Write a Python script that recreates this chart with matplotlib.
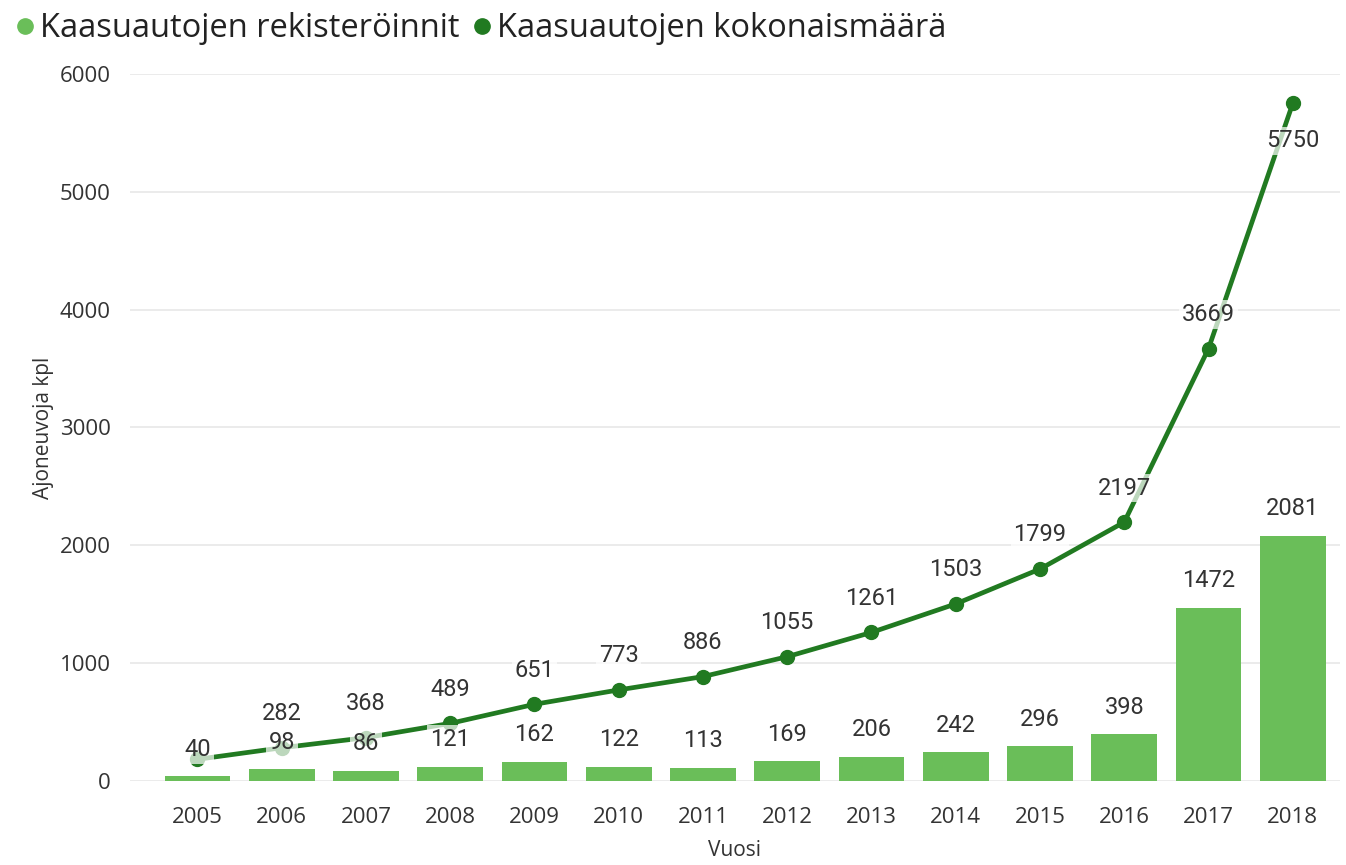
import matplotlib
matplotlib.use("Agg")
import matplotlib.pyplot as plt
from matplotlib.lines import Line2D

years = ["2005", "2006", "2007", "2008", "2009", "2010", "2011", "2012", "2013", "2014", "2015", "2016", "2017", "2018"]
registrations = [40, 98, 86, 121, 162, 122, 113, 169, 206, 242, 296, 398, 1472, 2081]
total = [184, 282, 368, 489, 651, 773, 886, 1055, 1261, 1503, 1799, 2197, 3669, 5750]
yticks = [0, 1000, 2000, 3000, 4000, 5000, 6000]

bar_color = "#6ABE59"
line_color = "#217A21"
txt_color = "#333333"
font_main = ["Open Sans", "DejaVu Sans"]
font_lab = ["Roboto", "DejaVu Sans"]

fig = plt.figure(figsize=(13.46, 8.65), dpi=100)
ax = fig.add_axes([0.0966, 0.0971, 0.8989, 0.8174])

x = list(range(len(years)))
ax.bar(x, registrations, width=0.78, color=bar_color, zorder=2)
ax.plot(x, total, color=line_color, lw=3.4, marker="o", ms=10, zorder=3)

lab_box = dict(boxstyle="square,pad=0.12", fc="white", ec="none", alpha=0.7)
for i, v in enumerate(registrations):
    ax.annotate(str(v), (i, v), xytext=(0, 19.5), textcoords="offset points",
                ha="center", va="center", fontsize=17, family=font_lab,
                color=txt_color, bbox=lab_box, zorder=5)
for i, v in enumerate(total):
    if i == 0:
        continue
    off = -27 if i == len(total) - 1 else 24.5
    ax.annotate(str(v), (i, v), xytext=(0, off), textcoords="offset points",
                ha="center", va="center", fontsize=17, family=font_lab,
                color=txt_color, bbox=lab_box, zorder=5)

ax.set_xlim(-0.8, 13.56)
ax.set_ylim(0, 6000)
ax.set_xticks(x)
ax.set_xticklabels(years)
ax.set_yticks(yticks)
ax.set_yticklabels([str(t) for t in yticks])
ax.tick_params(length=0, labelsize=16, labelcolor=txt_color)
for lab in ax.get_xticklabels() + ax.get_yticklabels():
    lab.set_family(font_main)
ax.tick_params(axis="x", pad=19)
ax.tick_params(axis="y", pad=14)
ax.grid(axis="y", color="#E8E8E8", lw=1.2, zorder=0)
ax.set_axisbelow(True)
for s in ax.spines.values():
    s.set_visible(False)

ax.set_xlabel("Vuosi", fontsize=15, color=txt_color, family=font_main, labelpad=8)
ax.set_ylabel("Ajoneuvoja kpl", fontsize=15, color=txt_color, family=font_main, labelpad=4)

handles = [Line2D([], [], ls="none", marker="o", ms=11, color=bar_color),
           Line2D([], [], ls="none", marker="o", ms=11, color=line_color)]
fig.legend(handles, ["Kaasuautojen rekisteröinnit", "Kaasuautojen kokonaismäärä"],
           loc="upper left", bbox_to_anchor=(-0.014, 1.02), ncol=2, frameon=False,
           handletextpad=0.0, columnspacing=0.25, handlelength=0.9,
           prop={"family": font_main, "size": 23.5}, labelcolor="#222222")

fig.savefig("out.png", dpi=100)
